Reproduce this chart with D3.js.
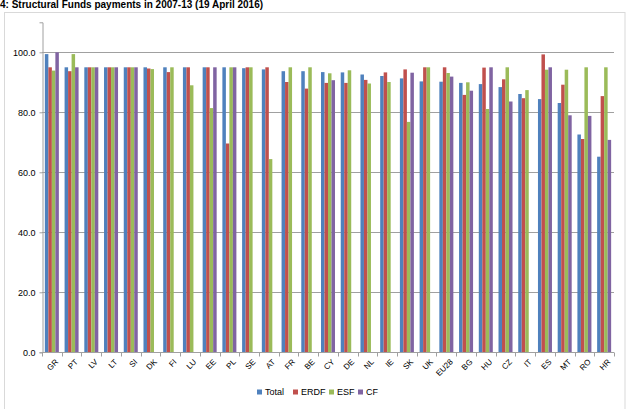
<!DOCTYPE html>
<html>
<head>
<meta charset="utf-8">
<script src="https://cdn.jsdelivr.net/npm/d3@7"></script>
<style>
  body { margin: 0; background: #fff; }
  svg { display: block; font-family: "Liberation Sans", Arial, sans-serif; }
</style>
</head>
<body>
<svg id="chart" width="631" height="409"></svg>
<script>
// data
const countries = ['GR', 'PT', 'LV', 'LT', 'SI', 'DK', 'FI', 'LU', 'EE', 'PL', 'SE', 'AT', 'FR', 'BE', 'CY',
    'DE', 'NL', 'IE', 'SK', 'UK', 'EU28', 'BG', 'HU', 'CZ', 'IT', 'ES', 'MT', 'RO', 'HR'];
const series = ['Total', 'ERDF', 'ESF', 'CF'];
const total = [99.4, 95.0, 95.0, 95.0, 95.0, 95.0, 95.0, 95.0, 95.0, 95.0, 94.7, 94.3, 93.7, 93.7, 93.4,
    93.3, 92.6, 92.1, 91.3, 90.3, 90.2, 89.8, 89.4, 88.4, 86.1, 84.4, 83.1, 72.6, 65.2];
const erdf = [95.0, 93.7, 95.0, 95.0, 95.0, 94.6, 93.4, 95.0, 95.0, 69.6, 95.0, 95.0, 90.1, 87.9, 89.8,
    89.8, 90.8, 93.3, 94.3, 95.0, 95.0, 85.8, 94.9, 91.0, 84.7, 99.3, 89.2, 71.1, 85.4];
const esf = [93.9, 99.4, 95.0, 95.0, 95.0, 94.4, 95.0, 89.0, 81.4, 95.0, 95.0, 64.4, 95.0, 95.0, 93.0,
    94.0, 89.6, 90.1, 76.8, 95.0, 93.1, 90.0, 81.1, 95.0, 87.4, 94.2, 94.2, 95.0, 95.0];
const cf = [100.0, 95.0, 95.0, 95.0, 95.0, null, null, null, 95.0, 95.0, null, null, null, null, 90.7,
    null, null, null, 93.2, null, 91.9, 87.2, 95.0, 83.6, null, 95.0, 79.0, 78.8, 70.8];
const yTicks = [0, 20, 40, 60, 80, 100];
const colors = ['#4F81BD', '#C0504D', '#9BBB59', '#8064A2'];

const values = [total, erdf, esf, cf];
const rows = countries.map((c, i) => ({
    country: c,
    vals: series.map((s, j) => ({ key: s, value: values[j][i] }))
}));

const svg = d3.select('#chart');
const margin = { left: 42, right: 17, top: 22.3, bottom: 56.7 };
const W = 631, H = 409;
const gridColor = '#a0a0a0';

// outer chart border
svg.append('rect')
    .attr('x', 4.5).attr('y', 12.5)
    .attr('width', 620.5).attr('height', 420)
    .attr('fill', 'none').attr('stroke', '#d9d9d9');

// title (sits at the very top like the source)
svg.append('text')
    .attr('x', 0).attr('y', 8)
    .attr('font-size', 10).attr('font-weight', 'bold')
    .attr('fill', '#000')
    .text('4: Structural Funds payments in 2007-13 (19 April 2016)');

const x0 = d3.scaleBand()
    .domain(countries)
    .range([margin.left, W - margin.right])
    .paddingInner(0.29)
    .paddingOuter(0.145);
const x1 = d3.scaleBand()
    .domain(series)
    .range([0, x0.bandwidth()]);
const y = d3.scaleLinear()
    .domain([0, 110])
    .range([H - margin.bottom, margin.top]);

// gridlines
svg.append('g')
    .selectAll('line')
    .data(yTicks.filter(t => t > 0))
    .join('line')
    .attr('x1', margin.left).attr('x2', W - margin.right)
    .attr('y1', d => Math.round(y(d)) + 0.5).attr('y2', d => Math.round(y(d)) + 0.5)
    .attr('stroke', gridColor).attr('stroke-width', 1);

// bars
svg.append('g')
    .selectAll('g')
    .data(rows)
    .join('g')
    .attr('transform', d => `translate(${x0(d.country)},0)`)
    .selectAll('rect')
    .data(d => d.vals.filter(v => v.value != null))
    .join('rect')
    .attr('x', d => x1(d.key))
    .attr('width', x1.bandwidth())
    .attr('y', d => y(d.value))
    .attr('height', d => y(0) - y(d.value))
    .attr('fill', d => colors[series.indexOf(d.key)]);

// y axis
const yAxis = svg.append('g')
    .attr('transform', `translate(${margin.left + 0.5},0)`)
    .call(d3.axisLeft(y).tickValues(yTicks).tickSize(3).tickPadding(4).tickFormat(d3.format('.1f')));
yAxis.select('.domain').attr('stroke', gridColor);
yAxis.selectAll('.tick line').attr('stroke', gridColor);
yAxis.selectAll('.tick text').attr('font-size', 9).attr('fill', '#000')
    .attr('font-family', '"Liberation Sans", Arial, sans-serif');

// x axis: line with ticks at category boundaries
const xg = svg.append('g');
const y0 = Math.round(y(0)) + 0.5;
xg.append('line')
    .attr('x1', margin.left).attr('x2', W - margin.right)
    .attr('y1', y0).attr('y2', y0)
    .attr('stroke', gridColor);
const step = x0.step();
xg.selectAll('line.tk')
    .data(d3.range(countries.length + 1))
    .join('line')
    .attr('class', 'tk')
    .attr('x1', i => Math.round(margin.left + i * step) + 0.5)
    .attr('x2', i => Math.round(margin.left + i * step) + 0.5)
    .attr('y1', y0).attr('y2', y0 + 4)
    .attr('stroke', gridColor);
xg.selectAll('text')
    .data(countries)
    .join('text')
    .attr('transform', d => `translate(${x0(d) + x0.bandwidth() / 2 + 3},${y0 + 6}) rotate(-45)`)
    .attr('text-anchor', 'end')
    .attr('dy', '0.7em')
    .attr('font-size', 8)
    .attr('fill', '#000')
    .text(d => d);

// legend
const legendX = [257, 293, 329, 358];
const lg = svg.append('g');
series.forEach((s, i) => {
    lg.append('rect')
        .attr('x', legendX[i]).attr('y', 389.5)
        .attr('width', 5).attr('height', 5)
        .attr('fill', colors[i]);
    lg.append('text')
        .attr('x', legendX[i] + 8).attr('y', 395)
        .attr('font-size', 9)
        .attr('fill', '#000')
        .text(s);
});
</script>
</body>
</html>
